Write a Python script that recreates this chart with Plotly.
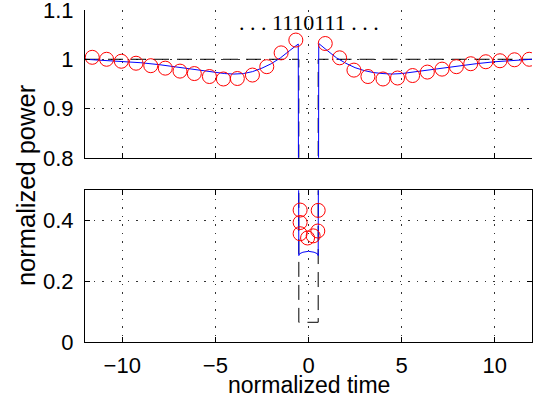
import plotly.graph_objects as go

# ---- data ----
blue_x = [-12, -11, -10, -9, -8, -7, -6, -5, -4.5, -4, -3.5, -3, -2.5, -2, -1.5, -1, -0.55,
          -0.52, -0.48, -0.3, 0, 0.3, 0.48, 0.52,
          0.55, 1, 1.5, 2, 2.5, 3, 3.5, 4, 4.5, 5, 6, 7, 8, 9, 10, 11, 12]
blue_y = [1.000, 0.998, 0.996, 0.993, 0.989, 0.984, 0.978, 0.973, 0.971, 0.970, 0.971, 0.975, 0.982, 0.991, 1.003, 1.018, 1.031,
          0.285, 0.291, 0.296, 0.299, 0.296, 0.291, 0.285,
          1.032, 1.018, 1.003, 0.992, 0.983, 0.977, 0.973, 0.971, 0.970, 0.971, 0.976, 0.982, 0.987, 0.991, 0.995, 0.998, 1.000]

dash_x = [-12, -0.52, -0.52, 0.52, 0.52, 12]
dash_y = [1.0, 1.0, 0.065, 0.065, 1.0, 1.0]

circle_x = [-11.61, -10.84, -10.05, -9.26, -8.47, -7.69, -6.90, -6.13, -5.32, -4.57, -3.82, -3.01, -2.24, -1.47, -0.68,
            -0.45, -0.45, -0.45, -0.05, 0.25, 0.50, 0.52,
            0.90, 1.67, 2.44, 3.19, 4.00, 4.78, 5.59, 6.38, 7.17, 7.94, 8.71, 9.52, 10.28, 11.06, 11.85]
circle_y = [1.004, 1.000, 0.996, 0.992, 0.987, 0.982, 0.976, 0.971, 0.965, 0.960, 0.961, 0.968, 0.985, 1.013, 1.039,
            0.435, 0.394, 0.357, 0.343, 0.350, 0.366, 0.434,
            1.032, 1.003, 0.978, 0.965, 0.960, 0.962, 0.967, 0.974, 0.980, 0.985, 0.991, 0.995, 0.997, 0.999, 1.000]

x_ticks = [-10, -5, 0, 5, 10]
top_y_ticks = [0.8, 0.9, 1, 1.1]
top_y_labels = ["0.8", "0.9", "1", "1.1"]
bot_y_ticks = [0, 0.2, 0.4]
bot_y_labels = ["0", "0.2", "0.4"]

title_text = ". . . 1110111 . . ."
xlabel = "normalized time"
ylabel = "normalized power"

fig = go.Figure()
for xa, ya in (("x", "y"), ("x2", "y2")):
    fig.add_trace(go.Scatter(x=dash_x, y=dash_y, mode="lines", xaxis=xa, yaxis=ya,
                             line=dict(color="black", width=1, dash="15px,8px"), showlegend=False))
    fig.add_trace(go.Scatter(x=blue_x, y=blue_y, mode="lines", xaxis=xa, yaxis=ya,
                             line=dict(color="#0000ff", width=1), showlegend=False))
    fig.add_trace(go.Scatter(x=circle_x, y=circle_y, mode="markers", xaxis=xa, yaxis=ya,
                             marker=dict(symbol="circle-open", size=14, color="#ff0000",
                                         line=dict(width=1, color="#ff0000")),
                             showlegend=False))

W, H = 539, 401
L, R, T, B = 85, 7.3, 10, 59.3
ph = H - T - B
top_dom = [(341.7 - 157.7) / ph, 1.0]
bot_dom = [0.0, (341.7 - 190.2) / ph]

tickfont = dict(family="Liberation Sans, Arial, sans-serif", size=22, color="black")
grid = dict(showgrid=True, gridcolor="#333333", gridwidth=1, griddash="1.5px,7px", zeroline=False,
            automargin=False, ticklabeloverflow="allow")

fig.update_layout(
    width=W, height=H, margin=dict(l=L, r=R, t=T, b=B, pad=0, autoexpand=False),
    paper_bgcolor="white", plot_bgcolor="white",
    font=tickfont,
    xaxis=dict(domain=[0, 1], anchor="y", range=[-12, 12], tickvals=x_ticks, showticklabels=False,
               ticks="inside", ticklen=5, tickcolor="black", showline=True, linecolor="black",
               linewidth=1, mirror=False, **grid),
    yaxis=dict(domain=top_dom, anchor="x", range=[0.8, 1.10001], tickvals=top_y_ticks, ticktext=top_y_labels,
               ticks="inside", ticklen=5, tickcolor="black", showline=True, linecolor="black",
               linewidth=1, mirror=False, ticklabelstandoff=6, **grid),
    xaxis2=dict(domain=[0, 1], anchor="y2", range=[-12, 12], tickvals=x_ticks,
                ticks="inside", ticklen=5, tickcolor="black", showline=True, linecolor="black",
                linewidth=1, mirror="ticks", ticklabelstandoff=4, **grid),
    yaxis2=dict(domain=bot_dom, anchor="x2", range=[0, 0.5], tickvals=bot_y_ticks, ticktext=bot_y_labels,
                ticks="inside", ticklen=5, tickcolor="black", showline=True, linecolor="black",
                linewidth=1, mirror="ticks", ticklabelstandoff=6, **grid),
)

fig.add_annotation(text=title_text, x=0, y=1.075, xref="x", yref="y", showarrow=False,
                   xanchor="center", yanchor="middle",
                   font=dict(family="Liberation Serif, Times New Roman, serif", size=22, color="black"))
fig.add_annotation(text=xlabel, x=0.5, y=(341.7 - 385) / ph, xref="paper", yref="paper", showarrow=False,
                   xanchor="center", yanchor="middle",
                   font=dict(family="Liberation Sans, Arial, sans-serif", size=23, color="black"))
fig.add_annotation(text=ylabel, x=(26 - L) / (W - L - R), y=(341.7 - 185) / ph, xref="paper", yref="paper",
                   showarrow=False, textangle=-90, xanchor="center", yanchor="middle",
                   font=dict(family="Liberation Sans, Arial, sans-serif", size=25.5, color="black"))

fig.write_html("out.html", config={"displayModeBar": False, "staticPlot": True},
               post_script="document.body.style.margin='0';document.body.style.overflow='hidden';")
